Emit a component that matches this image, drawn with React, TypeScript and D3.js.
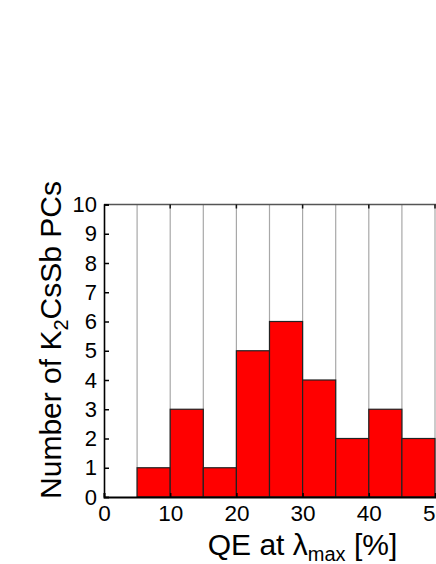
import React, { useRef, useEffect } from 'react';
import * as d3 from 'd3';

// histogram bins (QE %), left edges, and counts
const binStarts = [5, 10, 15, 20, 25, 30, 35, 40, 45];
const binCounts = [1, 3, 1, 5, 6, 4, 2, 3, 2];
const binWidth = 5;
const xTicks = [0, 10, 20, 30, 40, 50, 60];
const yTicks = [0, 1, 2, 3, 4, 5, 6, 7, 8, 9, 10];
const gridLines = [5, 10, 15, 20, 25, 30, 35, 40, 45, 50, 55];

const W = 436;
const H = 564;
const FONT = '"Liberation Sans", Arial, sans-serif';

const App = () => {
  const svgRef = useRef<SVGSVGElement>(null);

  useEffect(() => {
    const svg = d3.select(svgRef.current);
    svg.selectAll('*').remove();

    const margin = { top: 204.5, left: 104, bottom: 497 };
    const x = d3.scaleLinear().domain([0, 60]).range([margin.left, margin.left + 397.2]);
    const y = d3.scaleLinear().domain([0, 10]).range([margin.bottom, margin.top]);

    // vertical grid
    svg.append('g')
      .selectAll('line')
      .data(gridLines)
      .join('line')
      .attr('x1', d => x(d)).attr('x2', d => x(d))
      .attr('y1', y(0)).attr('y2', y(10))
      .attr('stroke', '#a8a8a8')
      .attr('stroke-width', 1.2);

    // bars
    svg.append('g')
      .selectAll('rect')
      .data(binStarts)
      .join('rect')
      .attr('x', d => x(d))
      .attr('width', d => x(d + binWidth) - x(d))
      .attr('y', (d, i) => y(binCounts[i]))
      .attr('height', (d, i) => y(0) - y(binCounts[i]))
      .attr('fill', '#ff0000')
      .attr('stroke', '#222')
      .attr('stroke-width', 1.2);

    // frame: top line
    svg.append('line')
      .attr('x1', x(0)).attr('x2', x(60))
      .attr('y1', y(10)).attr('y2', y(10))
      .attr('stroke', '#555').attr('stroke-width', 1.5);

    // top ticks
    svg.append('g')
      .selectAll('line')
      .data(xTicks.slice(1, -1))
      .join('line')
      .attr('x1', d => x(d)).attr('x2', d => x(d))
      .attr('y1', y(10)).attr('y2', y(10) + 4)
      .attr('stroke', '#111').attr('stroke-width', 1.5);

    // left axis
    const yAxis = d3.axisLeft(y).tickValues(yTicks).tickSize(-5).tickPadding(7).tickFormat(d3.format('d'));
    const gy = svg.append('g').attr('transform', `translate(${x(0)},0)`).call(yAxis);
    gy.select('.domain').attr('stroke', '#000').attr('stroke-width', 1.6);
    gy.selectAll('.tick line').attr('stroke', '#000').attr('stroke-width', 1.5);
    gy.selectAll('.tick text')
      .attr('font-family', FONT).attr('font-size', 22).attr('fill', '#000');

    // bottom axis
    const xAxis = d3.axisBottom(x).tickValues(xTicks).tickSize(-4).tickPadding(8).tickFormat(d3.format('d'));
    const gx = svg.append('g').attr('transform', `translate(0,${y(0)})`).call(xAxis);
    gx.select('.domain').attr('stroke', '#000').attr('stroke-width', 1.8);
    gx.selectAll('.tick line').attr('stroke', '#000').attr('stroke-width', 1.5);
    gx.selectAll('.tick text')
      .attr('font-family', FONT).attr('font-size', 22.5).attr('fill', '#000');

    // x title
    const xt = svg.append('text')
      .attr('x', 302.5)
      .attr('y', 555)
      .attr('text-anchor', 'middle')
      .attr('font-family', FONT)
      .attr('font-size', 30)
      .attr('fill', '#000');
    xt.append('tspan').text('QE at λ');
    xt.append('tspan').attr('font-size', 20).attr('dy', 6).text('max');
    xt.append('tspan').attr('dy', -6).text(' [%]');

    // y title
    const yt = svg.append('text')
      .attr('transform', `translate(61,340) rotate(-90)`)
      .attr('text-anchor', 'middle')
      .attr('font-family', FONT)
      .attr('font-size', 30)
      .attr('fill', '#000');
    yt.append('tspan').text('Number of K');
    yt.append('tspan').attr('font-size', 20).attr('dy', 7).text('2');
    yt.append('tspan').attr('dy', -7).text('CsSb PCs');
  }, []);

  return (
    <svg
      ref={svgRef}
      width={W}
      height={H}
      style={{ position: 'absolute', left: 0, top: 0, background: '#fff', overflow: 'hidden' }}
    />
  );
};

export default App;
